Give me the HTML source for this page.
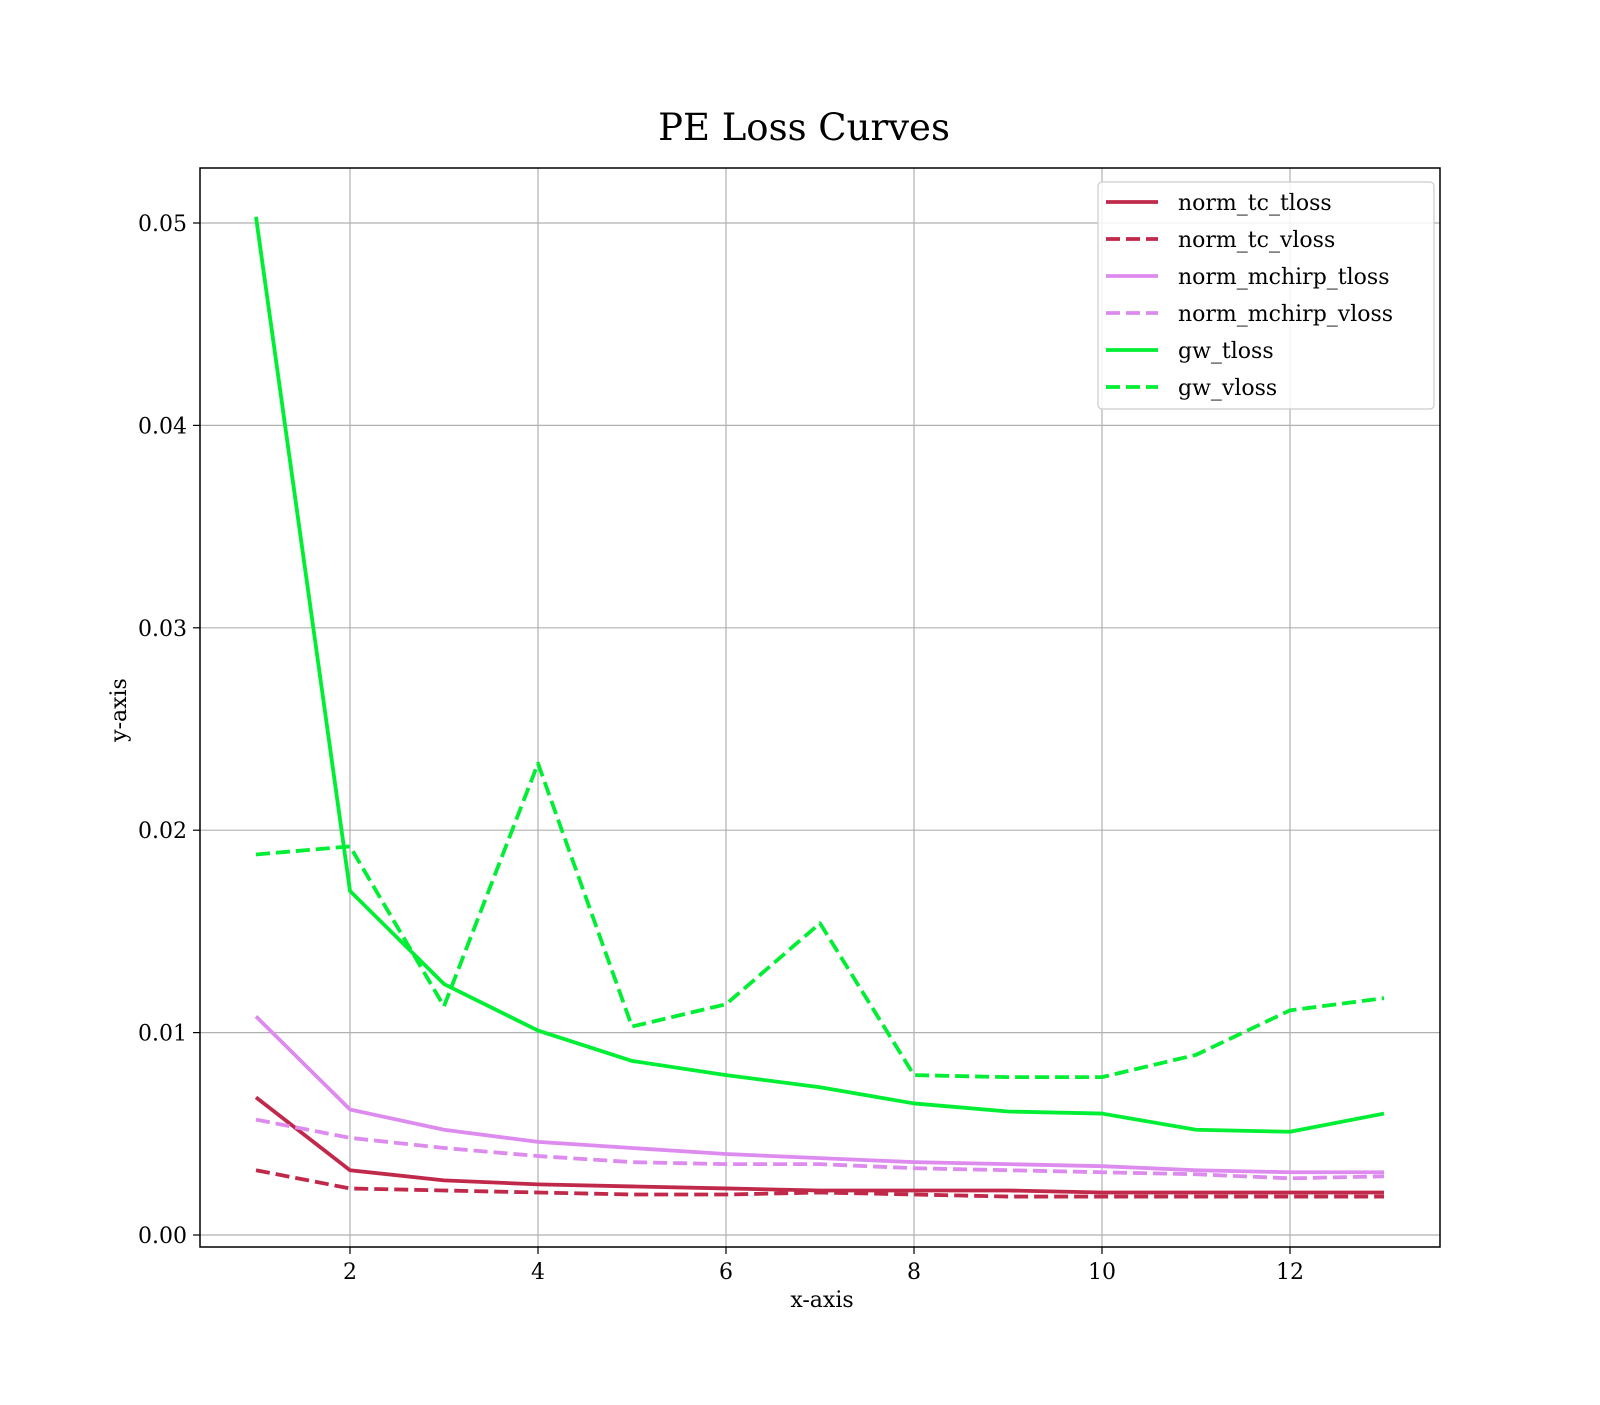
<!DOCTYPE html>
<html><head><meta charset="utf-8"><style>
body{margin:0;background:#fff}
svg text{font-family:"DejaVu Serif","Liberation Serif",serif;fill:#000}
</style></head><body>
<svg id="chart" width="1600" height="1400" xmlns="http://www.w3.org/2000/svg">
<rect width="1600" height="1400" fill="#fff"/>
<text x="804" y="140" font-size="37" text-anchor="middle">PE Loss Curves</text>
<g id="grid"></g>
<g id="series"></g>
<rect x="200" y="168" width="1240" height="1079" fill="none" stroke="#000" stroke-width="1.5"/>
<g id="ticks"></g>
<text x="822" y="1307" font-size="22" text-anchor="middle">x-axis</text>
<text transform="translate(126,710) rotate(-90)" font-size="22" text-anchor="middle">y-axis</text>
<g id="legend"></g>
</svg>
<script>
const epochs=[1,2,3,4,5,6,7,8,9,10,11,12,13];
const normTcTloss=[0.0068,0.0032,0.0027,0.0025,0.0024,0.0023,0.0022,0.0022,0.0022,0.0021,0.0021,0.0021,0.0021];
const normTcVloss=[0.0032,0.0023,0.0022,0.0021,0.0020,0.0020,0.0021,0.0020,0.0019,0.0019,0.0019,0.0019,0.0019];
const normMchirpTloss=[0.0108,0.0062,0.0052,0.0046,0.0043,0.0040,0.0038,0.0036,0.0035,0.0034,0.0032,0.0031,0.0031];
const normMchirpVloss=[0.0057,0.0048,0.0043,0.0039,0.0036,0.0035,0.0035,0.0033,0.0032,0.0031,0.0030,0.0028,0.0029];
const gwTloss=[0.0503,0.0170,0.0124,0.0101,0.0086,0.0079,0.0073,0.0065,0.0061,0.0060,0.0052,0.0051,0.0060];
const gwVloss=[0.0188,0.0192,0.0113,0.0233,0.0103,0.0114,0.0154,0.0079,0.0078,0.0078,0.0089,0.0111,0.0117];
const xTicks=[2,4,6,8,10,12];
const yTicks=[0,0.01,0.02,0.03,0.04,0.05];
const yTickLabels=["0.00","0.01","0.02","0.03","0.04","0.05"];
const seriesNames=["norm_tc_tloss","norm_tc_vloss","norm_mchirp_tloss","norm_mchirp_vloss","gw_tloss","gw_vloss"];

const NS="http://www.w3.org/2000/svg";
const X=v=>350+(v-2)*94;
const Y=v=>1235-v*20240;
function mk(t,a,p){const e=document.createElementNS(NS,t);for(const k in a)e.setAttribute(k,a[k]);p.appendChild(e);return e;}
const grid=document.getElementById('grid'),ticks=document.getElementById('ticks');
xTicks.forEach(t=>{
 const g=mk('line',{x1:X(t),x2:X(t),y1:168,y2:1247,stroke:'#b0b0b0','stroke-width':1.2},grid);
 
 
 mk('line',{x1:X(t),x2:X(t),y1:1247,y2:1254,stroke:'#000','stroke-width':1.2},ticks);
 const tx=mk('text',{x:X(t),y:1279,'font-size':22,'text-anchor':'middle'},ticks);tx.textContent=t;
 
 
});
yTicks.forEach((t,i)=>{
 const g=mk('line',{x1:200,x2:1440,y1:Y(t),y2:Y(t),stroke:'#b0b0b0','stroke-width':1.2},grid);
 
 
 mk('line',{x1:193,x2:200,y1:Y(t),y2:Y(t),stroke:'#000','stroke-width':1.2},ticks);
 const tx=mk('text',{x:187,y:Y(t)+8,'font-size':22,'text-anchor':'end'},ticks);tx.textContent=yTickLabels[i];
 
 
});
const data=[normTcTloss,normTcVloss,normMchirpTloss,normMchirpVloss,gwTloss,gwVloss];
const colors=['#c0294a','#c0294a','#dd8bee','#dd8bee','#00ee33','#00ee33'];
const dashed=[false,true,false,true,false,true];
const sg=document.getElementById('series'),lg=document.getElementById('legend');
data.forEach((d,i)=>{
 const p=mk('polyline',{points:d.map((v,j)=>X(epochs[j])+','+Y(v)).join(' '),fill:'none',stroke:colors[i],'stroke-width':3.8,'stroke-linejoin':'round','stroke-dasharray':dashed[i]?'14,6':'none'},sg);
 
 
});
const box=mk('rect',{x:1098,y:182,width:336,height:227,rx:4,fill:'#fff','fill-opacity':0.85,stroke:'#ccc','stroke-width':1.2},lg);


seriesNames.forEach((n,i)=>{
 const y=202+i*37;
 const l=mk('line',{x1:1106,x2:1158,y1:y,y2:y,stroke:colors[i],'stroke-width':3.8,'stroke-dasharray':dashed[i]?'14,6':'none'},lg);
 
 
 const t=mk('text',{x:1178,y:y+8,'font-size':22},lg);t.textContent=n;
 
 
});
</script>
</body></html>
